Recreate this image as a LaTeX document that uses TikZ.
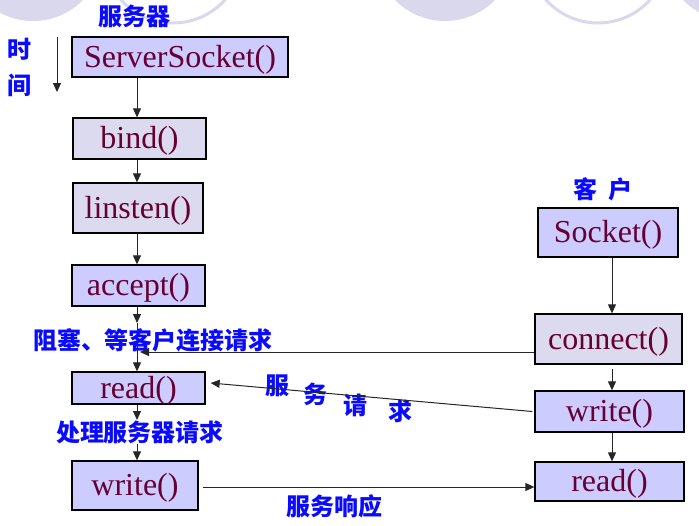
\documentclass[tikz,border=0pt]{standalone}
\usepackage{fontspec}
\newfontfamily\cjk{Noto Sans CJK SC}
\newfontfamily\funcfont{Liberation Serif}
\usetikzlibrary{positioning, arrows.meta}

\definecolor{boxfill}{HTML}{CCCCFF}
\definecolor{greyfill}{HTML}{DCDAEE}
\definecolor{funccolor}{HTML}{660033}
\definecolor{labelcolor}{HTML}{0A0AFF}
\definecolor{decocolor}{HTML}{DAD8EC}

\begin{document}
\begin{tikzpicture}[
    x=1pt, y=-1pt,
    >={Triangle[length=9pt, width=8pt]},
    box/.style={
        rectangle,
        draw=black,
        line width=1.3pt,
        fill=#1,
        text=funccolor,
        font=\funcfont\fontsize{32}{36}\selectfont,
        inner sep=0pt,
        text height=24pt,
        text depth=4pt
    },
    box/.default=boxfill,
    lbl/.style={
        text=labelcolor,
        font=\cjk\bfseries\fontsize{24}{26}\selectfont,
        inner sep=0pt
    },
    arrow/.style={
        ->,
        line width=1pt,
        draw=black!85
    }
]

\useasboundingbox (0,0) rectangle (699,525);

% Background decoration
\begin{scope}
    \clip (0,0) rectangle (699,525);
    \fill[decocolor] (33,-49) circle (70);
    \draw[decocolor, line width=3pt] (173,-47) circle (70);
    \fill[decocolor] (445,-49) circle (70);
    \draw[decocolor, line width=3pt] (598,-47) circle (70);
    \fill[decocolor] (733,-49) circle (70);
\end{scope}

% Server column
\node[box, minimum width=216pt, minimum height=40pt] (ss) at (180,57) {ServerSocket()};
\node[box=greyfill, minimum width=133pt, minimum height=41pt] (bind) at (139.5,138.5) {bind()};
\node[box=greyfill, minimum width=130pt, minimum height=50pt] (listen) at (138,208) {linsten()};
\node[box, minimum width=133pt, minimum height=41pt] (accept) at (138.5,285.5) {accept()};
\node[box, minimum width=133pt, minimum height=32pt] (sread) at (138.5,388) {read()};
\node[box, minimum width=126pt, minimum height=49pt] (swrite) at (135,485.5) {write()};

% Client column
\node[box, minimum width=140pt, minimum height=49pt] (sock) at (608,232.5) {Socket()};
\node[box=greyfill, minimum width=147pt, minimum height=50pt] (conn) at (608.5,339) {connect()};
\node[box, minimum width=149pt, minimum height=41pt] (cwrite) at (609.5,411.5) {write()};
\node[box, minimum width=149pt, minimum height=39pt] (cread) at (609.5,481.5) {read()};

% Labels
\node[lbl] (server) at (134,16) {服务器};
\node[lbl] (time1) at (20,49) {时};
\node[lbl] (time2) at (20,85) {间};
\node[lbl] (client) at (603,189) {客\hspace{11pt}户};
\node[lbl] (block) at (153,340) {阻塞、等客户连接请求};
\node[lbl] (handle) at (140,432) {处理服务器请求};
\node[lbl] (req1) at (277,386) {服};
\node[lbl] (req2) at (315,394) {务};
\node[lbl] (req3) at (355,405) {请};
\node[lbl] (req4) at (400,411) {求};
\node[lbl] (resp) at (334,506) {服务响应};

% Spines and waypoints
\coordinate (sx) at (137,0);
\coordinate (cx) at (612,0);
\coordinate (wait) at (137,323);
\coordinate (hit) at (140,352);
\coordinate (done) at (137,420);
\coordinate (reply) at (137,444);
\coordinate (rs) at (203,487);
\coordinate (t0) at (57,37);
\coordinate (t1) at (57,92);

% Time axis
\draw[arrow] (t0) -- (t1);

% Server arrows
\draw[arrow] (ss.south -| sx) -- (bind.north -| sx);
\draw[arrow] (bind.south -| sx) -- (listen.north -| sx);
\draw[arrow] (listen.south -| sx) -- (accept.north -| sx);
\draw[arrow] (accept.south -| sx) -- (wait);
\draw[arrow] (wait) -- (sread.north -| sx);
\draw[arrow] (sread.south -| sx) -- (done);
\draw[arrow] (reply) -- (swrite.north -| sx);

% Client arrows
\draw[arrow] (sock.south -| cx) -- (conn.north -| cx);
\draw[arrow] ([yshift=-4pt]conn.south -| cx) -- (cwrite.north -| cx);
\draw[arrow] (cwrite.south -| cx) -- (cread.north -| cx);

% Between server and client
\draw[arrow] (conn.west |- hit) -- (hit);
\draw[arrow] ([xshift=-2pt]cwrite.west) -- ([xshift=5pt, yshift=5pt]sread.east);
\draw[arrow] (rs) -- (cread.west |- rs);

\end{tikzpicture}
\end{document}
